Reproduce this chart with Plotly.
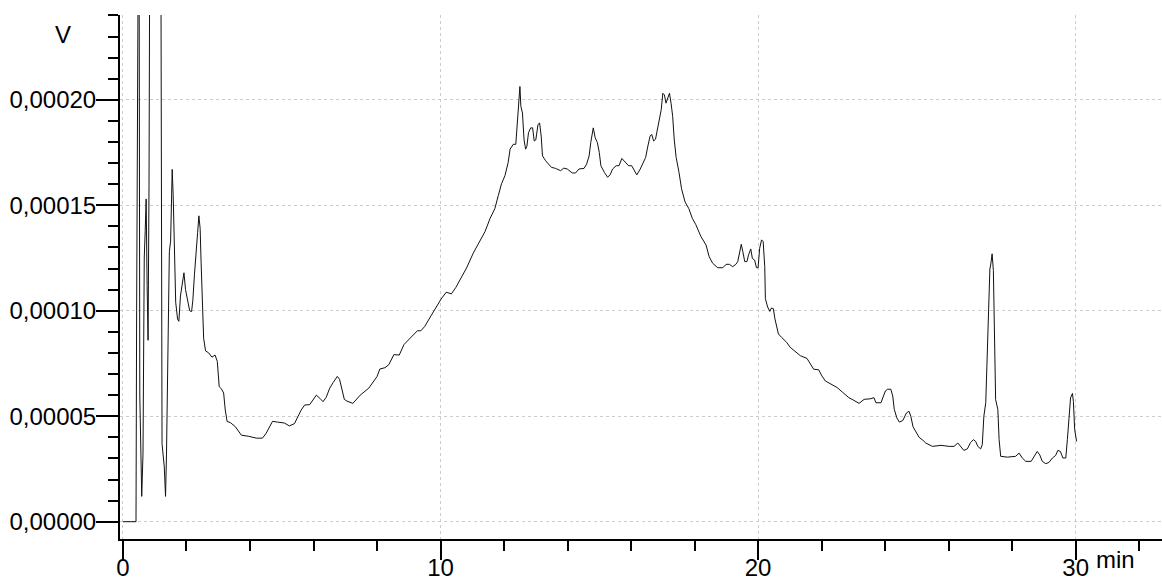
import plotly.graph_objects as go

# Retention time (min) and detector signal (V)
time_min = [
    0.00, 0.41, 0.43, 0.46, 0.50, 0.53, 0.56, 0.59, 0.63, 0.67,
    0.70, 0.73, 0.76, 0.79, 0.82, 0.86, 1.18, 1.23, 1.30, 1.34,
    1.37, 1.44, 1.46, 1.50, 1.52, 1.55, 1.58, 1.61, 1.66, 1.72,
    1.76, 1.81, 1.86, 1.92, 1.97, 2.04, 2.10, 2.16, 2.20, 2.25,
    2.30, 2.35, 2.39, 2.43, 2.46, 2.50, 2.54, 2.60, 2.70, 2.80,
    2.90, 2.97, 3.03, 3.10, 3.17, 3.22, 3.28, 3.38, 3.54, 3.73,
    3.96, 4.20, 4.39, 4.50, 4.71, 4.87, 5.08, 5.24, 5.40, 5.61,
    5.72, 5.88, 6.09, 6.20, 6.30, 6.40, 6.51, 6.62, 6.75, 6.82,
    6.89, 6.97, 7.05, 7.24, 7.47, 7.74, 8.00, 8.09, 8.25, 8.37,
    8.53, 8.70, 8.85, 9.12, 9.27, 9.38, 9.50, 9.70, 9.86, 10.02,
    10.18, 10.34, 10.48, 10.61, 10.82, 11.03, 11.24, 11.40, 11.56, 11.71,
    11.82, 11.92, 12.03, 12.13, 12.19, 12.29, 12.37, 12.42, 12.45, 12.50,
    12.53, 12.58, 12.63, 12.68, 12.72, 12.77, 12.84, 12.90, 12.95, 13.00,
    13.07, 13.12, 13.17, 13.21, 13.31, 13.41, 13.49, 13.62, 13.78, 13.88,
    13.99, 14.15, 14.25, 14.36, 14.52, 14.60, 14.68, 14.73, 14.81, 14.87,
    14.94, 15.00, 15.05, 15.16, 15.26, 15.34, 15.42, 15.53, 15.62, 15.71,
    15.81, 15.92, 16.02, 16.11, 16.18, 16.29, 16.39, 16.46, 16.53, 16.60,
    16.65, 16.71, 16.77, 16.81, 16.87, 16.95, 17.00, 17.05, 17.10, 17.16,
    17.21, 17.26, 17.31, 17.36, 17.42, 17.51, 17.59, 17.70, 17.82, 17.93,
    18.04, 18.20, 18.36, 18.46, 18.57, 18.73, 18.89, 18.99, 19.10, 19.20,
    19.30, 19.36, 19.42, 19.47, 19.52, 19.58, 19.65, 19.70, 19.77, 19.82,
    19.89, 19.95, 20.00, 20.05, 20.11, 20.16, 20.21, 20.23, 20.30, 20.37,
    20.42, 20.48, 20.53, 20.58, 20.64, 20.74, 20.90, 21.01, 21.17, 21.33,
    21.54, 21.64, 21.75, 21.91, 22.01, 22.12, 22.33, 22.49, 22.65, 22.86,
    23.02, 23.18, 23.34, 23.55, 23.65, 23.71, 23.87, 23.94, 24.01, 24.08,
    24.18, 24.24, 24.29, 24.37, 24.45, 24.56, 24.67, 24.75, 24.81, 24.88,
    24.98, 25.07, 25.20, 25.28, 25.49, 25.76, 26.02, 26.17, 26.29, 26.38,
    26.48, 26.59, 26.64, 26.69, 26.78, 26.85, 26.92, 27.01, 27.06, 27.11,
    27.17, 27.20, 27.24, 27.27, 27.30, 27.33, 27.37, 27.41, 27.45, 27.48,
    27.55, 27.59, 27.64, 27.85, 28.11, 28.22, 28.32, 28.43, 28.60, 28.69,
    28.79, 28.87, 28.95, 29.06, 29.16, 29.27, 29.37, 29.44, 29.52, 29.60,
    29.69, 29.74, 29.79, 29.84, 29.90, 29.93, 29.97, 30.03,
]

signal_v = [
    0.0, 0.0, 1.0e-4, 1.95e-4, 3.4e-4, 6.0e-5, 2.4e-5, 1.2e-5, 3.2e-5, 1.25e-4,
    1.38e-4, 1.53e-4, 1.12e-4, 8.6e-5, 1.6e-4, 3.6e-4, 3.6e-4, 3.7e-5, 2.6e-5, 1.2e-5,
    3.2e-5, 1.0e-4, 1.28e-4, 1.33e-4, 1.54e-4, 1.67e-4, 1.55e-4, 1.33e-4, 1.04e-4, 9.6e-5,
    9.5e-5, 1.07e-4, 1.12e-4, 1.18e-4, 1.1e-4, 1.05e-4, 1.0e-4, 9.96e-5, 1.05e-4, 1.17e-4,
    1.3e-4, 1.37e-4, 1.45e-4, 1.39e-4, 1.23e-4, 1.04e-4, 8.7e-5, 8.1e-5, 8.0e-5, 7.8e-5,
    7.9e-5, 7.6e-5, 6.4e-5, 6.3e-5, 6.1e-5, 5.3e-5, 4.75e-5, 4.7e-5, 4.5e-5, 4.1e-5,
    4.05e-5, 3.96e-5, 3.96e-5, 4.17e-5, 4.76e-5, 4.72e-5, 4.68e-5, 4.54e-5, 4.65e-5, 5.29e-5,
    5.53e-5, 5.55e-5, 6.0e-5, 5.85e-5, 5.69e-5, 5.9e-5, 6.33e-5, 6.6e-5, 6.89e-5, 6.75e-5,
    6.25e-5, 5.8e-5, 5.72e-5, 5.61e-5, 6.0e-5, 6.33e-5, 6.88e-5, 7.24e-5, 7.3e-5, 7.44e-5,
    7.92e-5, 7.9e-5, 8.4e-5, 8.8e-5, 9.05e-5, 9.05e-5, 9.25e-5, 9.76e-5, 1.016e-4, 1.056e-4,
    1.088e-4, 1.08e-4, 1.11e-4, 1.145e-4, 1.203e-4, 1.273e-4, 1.328e-4, 1.375e-4, 1.4375e-4, 1.484e-4,
    1.547e-4, 1.602e-4, 1.641e-4, 1.703e-4, 1.766e-4, 1.789e-4, 1.789e-4, 1.906e-4, 1.969e-4, 2.063e-4,
    1.969e-4, 1.9375e-4, 1.81e-4, 1.766e-4, 1.78e-4, 1.844e-4, 1.867e-4, 1.867e-4, 1.805e-4, 1.81e-4,
    1.883e-4, 1.89e-4, 1.828e-4, 1.734e-4, 1.711e-4, 1.695e-4, 1.68e-4, 1.675e-4, 1.664e-4, 1.676e-4,
    1.672e-4, 1.653e-4, 1.653e-4, 1.672e-4, 1.675e-4, 1.695e-4, 1.734e-4, 1.797e-4, 1.867e-4, 1.82e-4,
    1.797e-4, 1.75e-4, 1.6875e-4, 1.656e-4, 1.633e-4, 1.644e-4, 1.672e-4, 1.6875e-4, 1.6875e-4, 1.722e-4,
    1.706e-4, 1.6875e-4, 1.6875e-4, 1.664e-4, 1.644e-4, 1.672e-4, 1.703e-4, 1.727e-4, 1.781e-4, 1.828e-4,
    1.836e-4, 1.805e-4, 1.813e-4, 1.844e-4, 1.906e-4, 1.953e-4, 2.031e-4, 2.023e-4, 1.984e-4, 2.008e-4,
    2.031e-4, 1.984e-4, 1.922e-4, 1.81e-4, 1.727e-4, 1.656e-4, 1.578e-4, 1.516e-4, 1.484e-4, 1.4375e-4,
    1.408e-4, 1.352e-4, 1.312e-4, 1.256e-4, 1.225e-4, 1.204e-4, 1.204e-4, 1.22e-4, 1.22e-4, 1.209e-4,
    1.22e-4, 1.233e-4, 1.288e-4, 1.315e-4, 1.28e-4, 1.233e-4, 1.233e-4, 1.265e-4, 1.293e-4, 1.248e-4,
    1.24e-4, 1.204e-4, 1.204e-4, 1.296e-4, 1.336e-4, 1.328e-4, 1.209e-4, 1.057e-4, 1.018e-4, 9.97e-5,
    1.013e-4, 1.01e-4, 9.62e-5, 9.3e-5, 8.9e-5, 8.74e-5, 8.5e-5, 8.27e-5, 8.06e-5, 7.87e-5,
    7.74e-5, 7.47e-5, 7.23e-5, 7.2e-5, 6.91e-5, 6.67e-5, 6.51e-5, 6.36e-5, 6.15e-5, 5.88e-5,
    5.75e-5, 5.61e-5, 5.8e-5, 5.83e-5, 5.88e-5, 5.64e-5, 5.64e-5, 5.88e-5, 6.2e-5, 6.28e-5,
    6.28e-5, 5.96e-5, 5.32e-5, 4.92e-5, 4.72e-5, 4.8e-5, 5.15e-5, 5.24e-5, 5.0e-5, 4.5e-5,
    4.21e-5, 4.0e-5, 3.85e-5, 3.73e-5, 3.57e-5, 3.62e-5, 3.57e-5, 3.57e-5, 3.73e-5, 3.57e-5,
    3.38e-5, 3.45e-5, 3.6e-5, 3.75e-5, 3.89e-5, 3.81e-5, 3.57e-5, 3.45e-5, 3.65e-5, 5.0e-5,
    5.64e-5, 7.06e-5, 8.97e-5, 9.6e-5, 1.198e-4, 1.222e-4, 1.27e-4, 1.19e-4, 8.81e-5, 5.79e-5,
    5.32e-5, 3.89e-5, 3.1e-5, 3.06e-5, 3.1e-5, 3.25e-5, 3.02e-5, 2.86e-5, 2.86e-5, 3.1e-5,
    3.33e-5, 3.17e-5, 2.86e-5, 2.75e-5, 2.81e-5, 3.02e-5, 3.14e-5, 3.38e-5, 3.33e-5, 3.02e-5,
    3.02e-5, 3.89e-5, 5.16e-5, 5.87e-5, 6.08e-5, 5.7e-5, 4.37e-5, 3.81e-5,
]

assert len(time_min) == len(signal_v)

y_tick_vals = [0.0, 0.00005, 0.00010, 0.00015, 0.00020]
y_tick_text = ["0,00000", "0,00005", "0,00010", "0,00015", "0,00020"]
x_tick_vals = [0, 10, 20, 30]

FONT = "Liberation Sans, Arial, sans-serif"

fig = go.Figure()
fig.add_trace(go.Scatter(
    x=time_min, y=signal_v, mode="lines",
    line=dict(color="#111111", width=1),
    showlegend=False, hoverinfo="skip",
))

grid_color = "#cccccc"

fig.update_layout(
    width=1162, height=581,
    margin=dict(l=120, r=0, t=15, b=42, autoexpand=False),
    paper_bgcolor="white", plot_bgcolor="white",
    font=dict(family=FONT, size=24, color="black"),
    showlegend=False,
    xaxis=dict(
        range=[-0.094, 32.72],
        tickmode="array", tickvals=x_tick_vals,
        ticktext=[str(v) for v in x_tick_vals],
        ticks="outside", ticklen=19, tickwidth=2, tickcolor="black",
        ticklabelstandoff=-13,
        showline=True, linecolor="black", linewidth=2,
        showgrid=True, gridcolor=grid_color, griddash="dot", gridwidth=1,
        zeroline=False, automargin=False,
        tickfont=dict(family=FONT, size=24, color="black"),
        minor=dict(dtick=2, tick0=0, ticks="outside", ticklen=10,
                   tickwidth=2, tickcolor="black", showgrid=False),
    ),
    yaxis=dict(
        range=[-0.0000082, 0.0002402],
        tickmode="array", tickvals=y_tick_vals, ticktext=y_tick_text,
        ticks="outside", ticklen=22, tickwidth=2, tickcolor="black",
        ticklabelstandoff=-5,
        showline=True, linecolor="black", linewidth=2,
        showgrid=True, gridcolor=grid_color, griddash="dot", gridwidth=1,
        zeroline=False, automargin=False,
        tickfont=dict(family=FONT, size=24, color="black"),
        minor=dict(dtick=0.00001, tick0=0, ticks="outside", ticklen=10,
                   tickwidth=2, tickcolor="black", showgrid=False),
    ),
    annotations=[
        dict(text="V", xref="paper", yref="paper", x=-0.0547, y=0.962,
             showarrow=False, xanchor="center", yanchor="middle",
             font=dict(family=FONT, size=24, color="black")),
        dict(text="min", xref="paper", yref="paper", x=0.955, y=-0.040,
             showarrow=False, xanchor="center", yanchor="middle",
             font=dict(family=FONT, size=24, color="black")),
    ],
)

fig.write_html(
    "out.html",
    config={"displayModeBar": False},
    post_script="document.body.style.margin='0';document.body.style.overflow='hidden';",
)
